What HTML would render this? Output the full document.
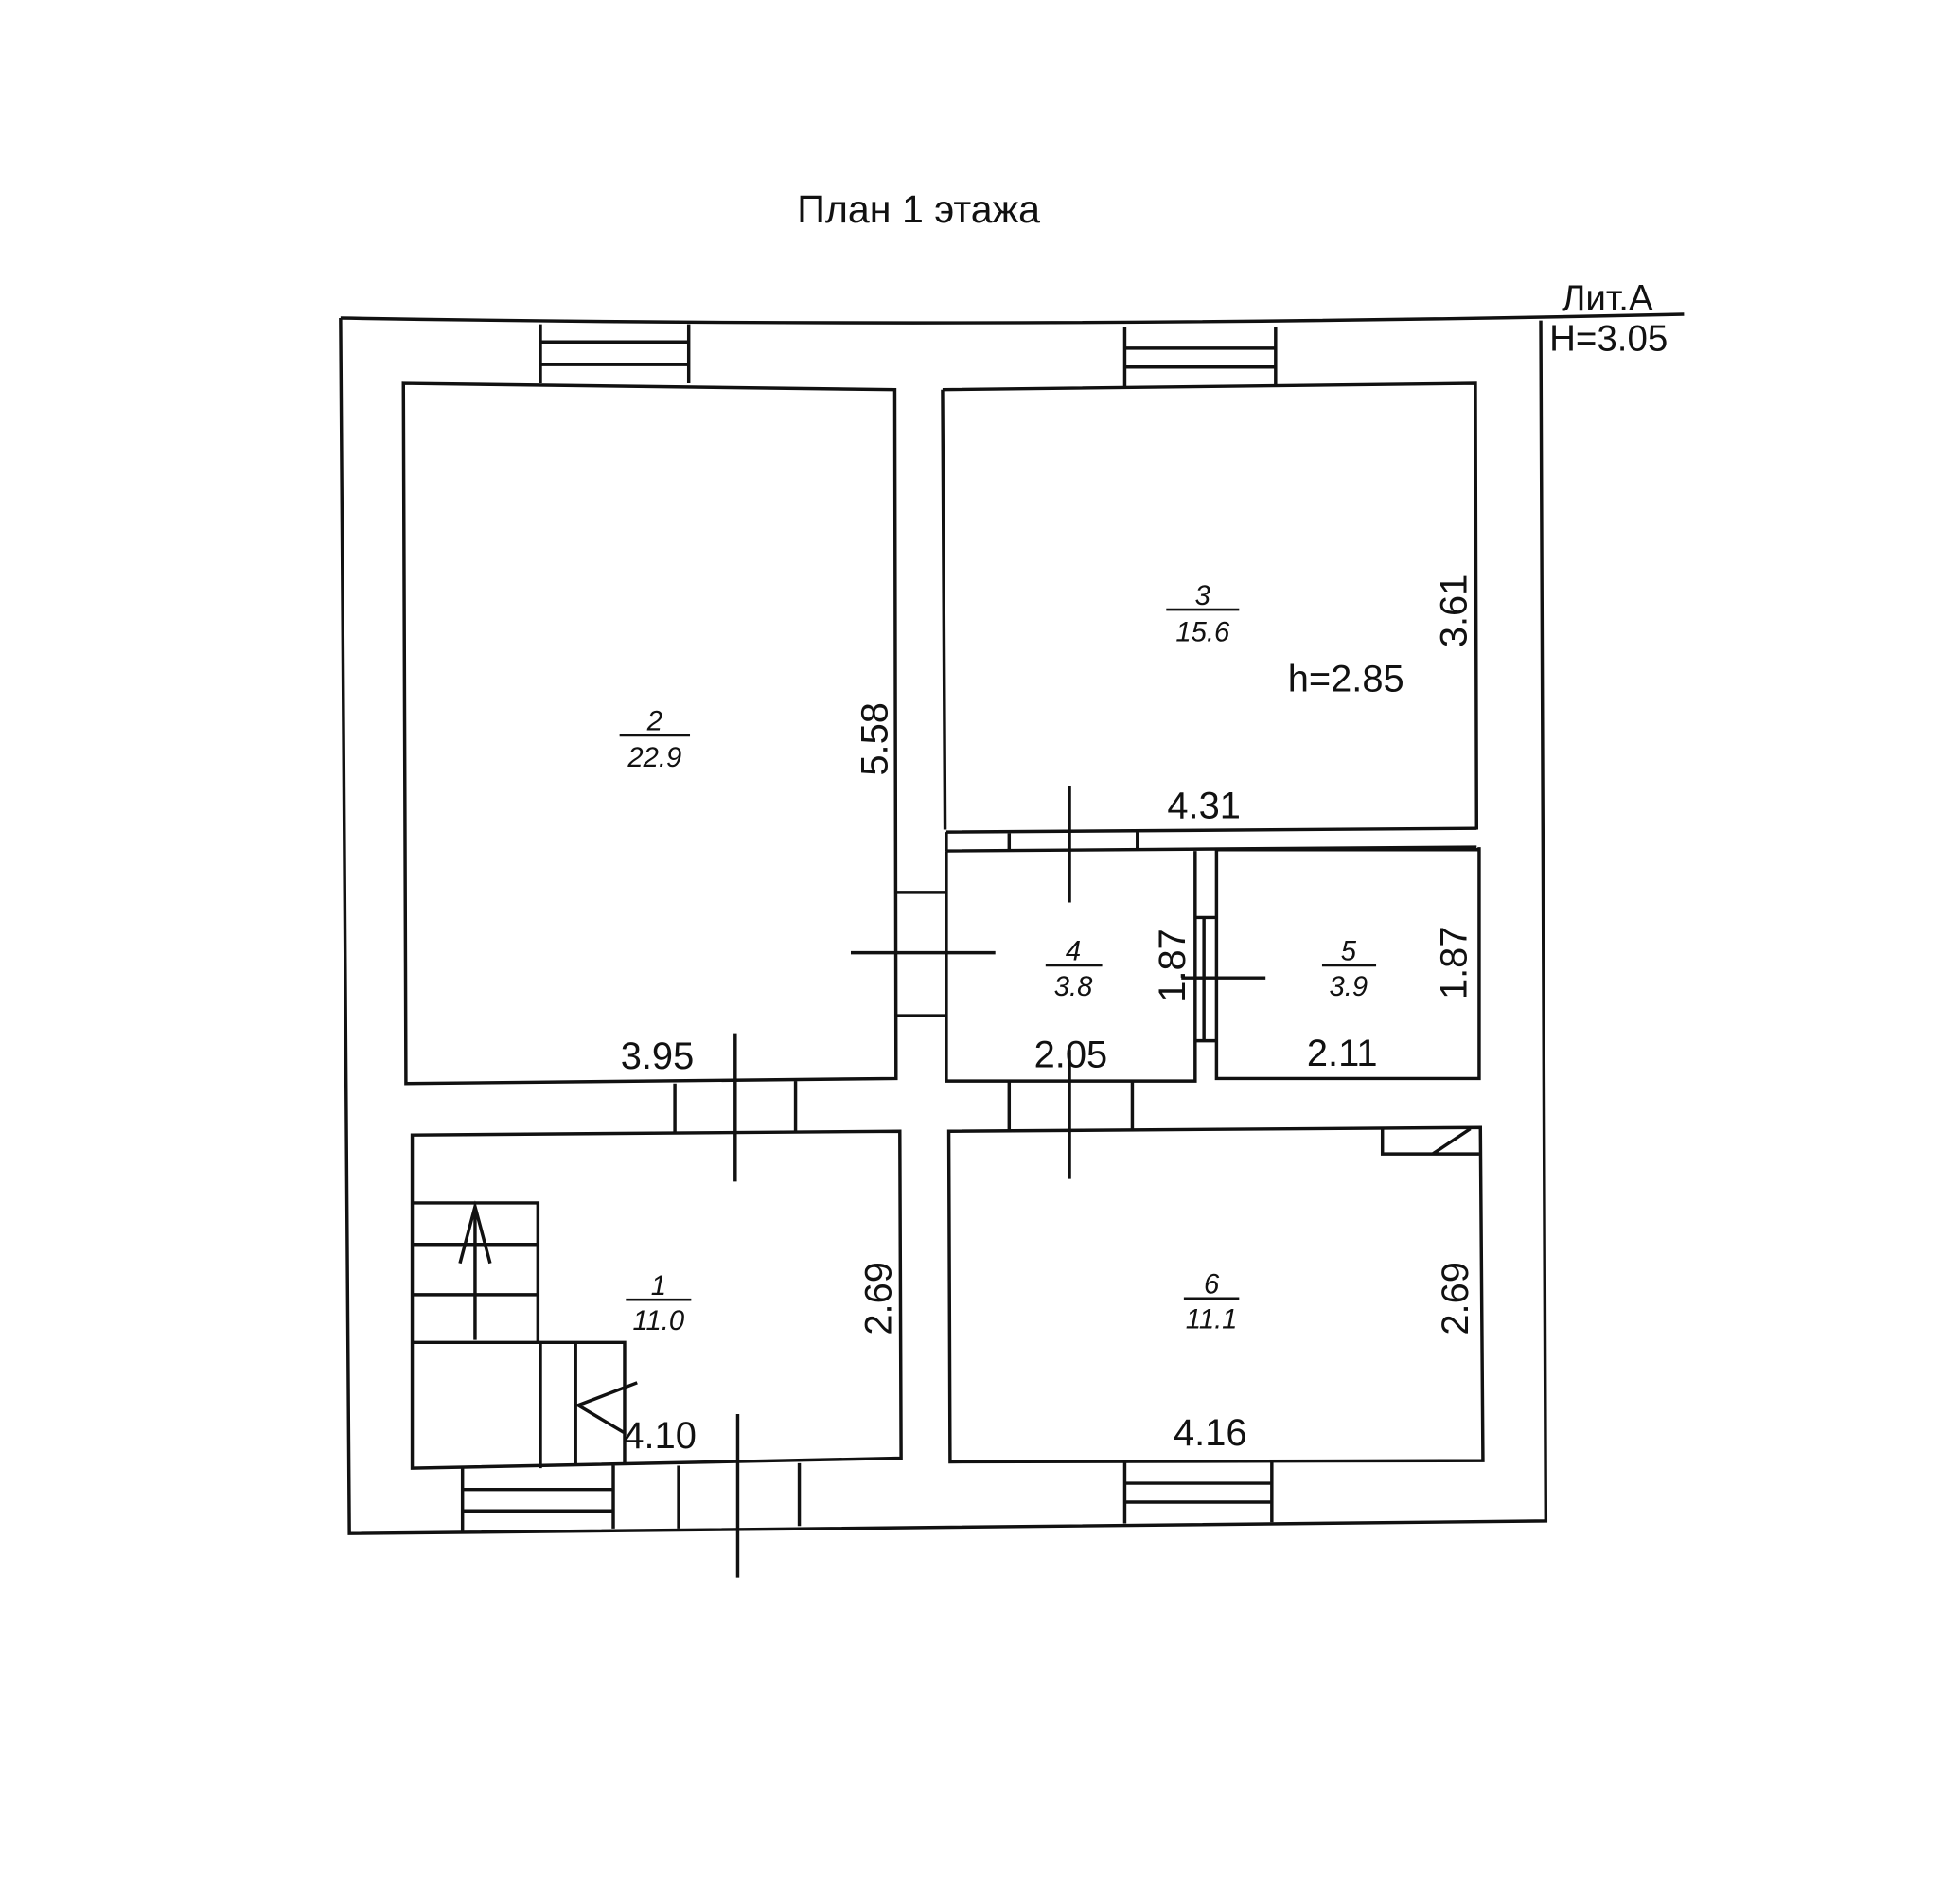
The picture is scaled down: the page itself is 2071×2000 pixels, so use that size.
<!DOCTYPE html>
<html><head><meta charset="utf-8"><style>
html,body{margin:0;padding:0;background:#fff;}
svg{display:block;}
text{font-family:"Liberation Sans","DejaVu Sans",sans-serif;fill:#111;}
.d{font-size:30px;}
.r{font-size:22px;font-style:italic;}
</style></head><body>
<svg width="2071" height="2000" viewBox="0 0 1559.6 1506" preserveAspectRatio="none" xmlns="http://www.w3.org/2000/svg">
<g stroke="#111" stroke-width="2.6" fill="none">
<path d="M271,253 Q800,262 1340,250"/>
<path d="M271,253 L278,1220 L1230,1210 L1226,255"/>
<path d="M321,305 L712,310 L713,858 L323,862 Z"/>
<path d="M750,310 L1174,305 L1175,660 M750,310 L752,660"/>
<path d="M430,258 V305 M548,258 V305 M430,272 H548 M430,290 H548"/>
<path d="M895,260 V308 M1015,260 V306 M895,277 H1015 M895,292 H1015"/>
<path d="M753,662 L1175,659 M753,677 L1175,674 M753,662 V677 M803,662 V677 M905,661 V676"/>
<path d="M753,677 V860 H951 V677 M951,858 V677"/>
<path d="M968,676 V858 H1177 V674 M968,676 H1177"/>
<path d="M958,730 V828 M951,730 H968 M951,828 H968"/>
<path d="M712,710 H753 M712,808 H753"/>
<path d="M677,758 H792 M851,625 V718 M940,778 H1007 M585,822 V940 M851,835 V938 M587,1125 V1255"/>
<path d="M537,862 V902 M633,860 V900 M803,860 V900 M901,859 V898"/>
<path d="M328,903 L716,900 L717,1160 L328,1168 Z"/>
<path d="M755,900 L1178,897 L1180,1162 L756,1163 Z"/>
<path d="M1100,897 V918 H1177 M1140,918 L1170,898"/>
<path d="M368,1168 V1218 M488,1166 V1216 M368,1185 H488 M368,1202 H488"/>
<path d="M540,1166 V1216 M636,1164 V1214"/>
<path d="M895,1163 V1212 M1012,1163 V1211 M895,1180 H1012 M895,1195 H1012"/>
<path d="M328,957 H428 V1068 M328,990 H428 M328,1030 H428 M378,960 V1066 M366,1005 L378,960 L390,1005"/>
<path d="M328,1068 H497 V1165 M430,1068 V1168 M458,1068 V1166 M507,1100 L460,1118 L497,1140"/>
<path d="M493,585 H549 M928,485 H986 M832,768 H877 M1052,768 H1095 M498,1034 H550 M942,1033 H986" stroke-width="2"/>
</g>
<text x="731" y="177" font-size="31" text-anchor="middle">План 1 этажа</text>
<text x="1279" y="247" font-size="29" text-anchor="middle">Лит.А</text>
<text x="1280" y="279" font-size="29" text-anchor="middle">H=3.05</text>
<text class="r" x="521" y="581" text-anchor="middle">2</text>
<text class="r" x="521" y="610" text-anchor="middle">22.9</text>
<text class="r" x="957" y="481" text-anchor="middle">3</text>
<text class="r" x="957" y="510" text-anchor="middle">15.6</text>
<text class="r" x="854" y="764" text-anchor="middle">4</text>
<text class="r" x="854" y="792" text-anchor="middle">3.8</text>
<text class="r" x="1073" y="764" text-anchor="middle">5</text>
<text class="r" x="1073" y="792" text-anchor="middle">3.9</text>
<text class="r" x="524" y="1030" text-anchor="middle">1</text>
<text class="r" x="524" y="1058" text-anchor="middle">11.0</text>
<text class="r" x="964" y="1029" text-anchor="middle">6</text>
<text class="r" x="964" y="1057" text-anchor="middle">11.1</text>
<text class="d" x="1071" y="550" text-anchor="middle">h=2.85</text>
<text class="d" x="958" y="651" text-anchor="middle">4.31</text>
<text class="d" x="523" y="850" text-anchor="middle">3.95</text>
<text class="d" x="852" y="849" text-anchor="middle">2.05</text>
<text class="d" x="1068" y="848" text-anchor="middle">2.11</text>
<text class="d" x="525" y="1152" text-anchor="middle">4.10</text>
<text class="d" x="963" y="1150" text-anchor="middle">4.16</text>
<text class="d" transform="translate(706,588) rotate(-90)" text-anchor="middle">5.58</text>
<text class="d" transform="translate(1167,486) rotate(-90)" text-anchor="middle">3.61</text>
<text class="d" transform="translate(943,768) rotate(-90)" text-anchor="middle">1.87</text>
<text class="d" transform="translate(1167,766) rotate(-90)" text-anchor="middle">1.87</text>
<text class="d" transform="translate(709,1033) rotate(-90)" text-anchor="middle">2.69</text>
<text class="d" transform="translate(1168,1033) rotate(-90)" text-anchor="middle">2.69</text>
</svg>
</body></html>
